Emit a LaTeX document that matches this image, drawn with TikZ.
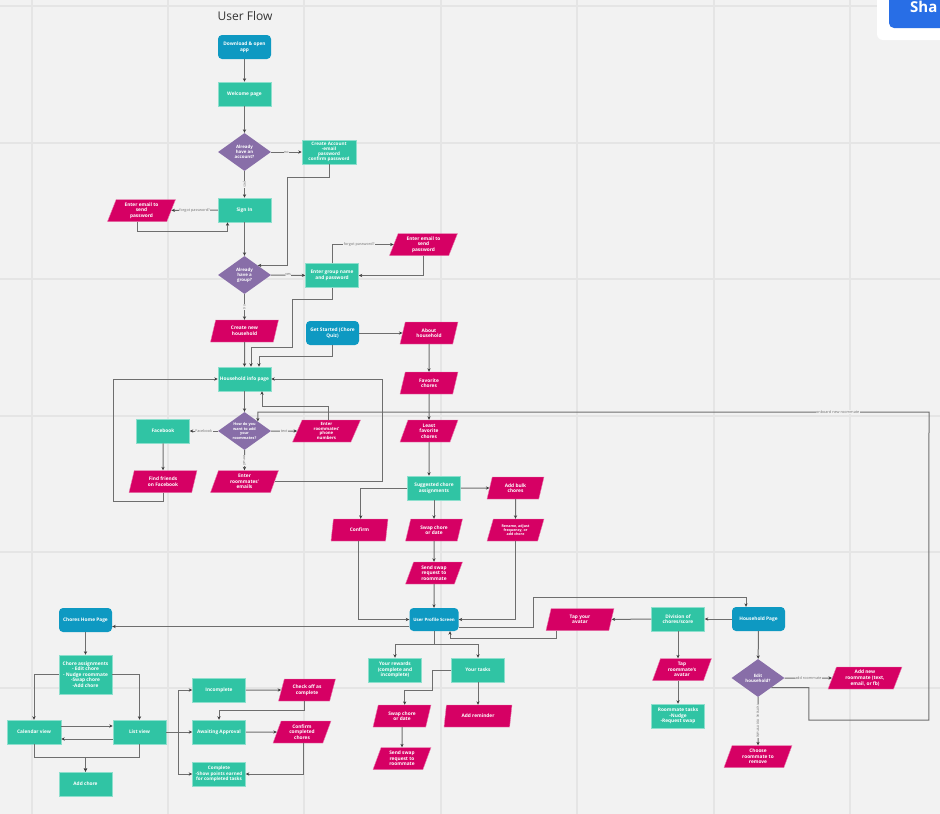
\documentclass[tikz,border=0pt]{standalone}
\usepackage{fontspec}
\setmainfont{Open Sans}
\usetikzlibrary{calc,arrows.meta,shapes.geometric}
\definecolor{bgc}{RGB}{242,242,242}
\definecolor{gridc}{RGB}{229,229,229}
\definecolor{tealc}{RGB}{48,196,164}
\definecolor{magc}{RGB}{214,0,100}
\definecolor{bluec}{RGB}{14,153,194}
\definecolor{purc}{RGB}{136,110,168}
\definecolor{linec}{RGB}{110,110,110}
\definecolor{tipc}{RGB}{60,60,60}
\definecolor{btnc}{RGB}{40,110,230}
\begin{document}
\begin{tikzpicture}[x=1pt,y=-1pt,
  ntxt/.style={text=white, font=\fontsize{4.8}{5.6}\selectfont\bfseries, align=center, inner sep=0.5pt},
  proc/.style={ntxt, rectangle, fill=tealc, draw=tealc!55!white, line width=0.5pt, minimum width=53, minimum height=24},
  term/.style={ntxt, rectangle, rounded corners=4pt, fill=bluec, minimum width=53, minimum height=24},
  para/.style={ntxt, trapezium, trapezium left angle=63, trapezium right angle=117, trapezium stretches body, fill=magc, draw=magc!50!white, line width=0.4pt, minimum width=68, minimum height=22},
  dec/.style={diamond, fill=purc, minimum width=53, minimum height=38, inner sep=0pt},
  dtxt/.style={ntxt, font=\fontsize{4.4}{5.1}\selectfont\bfseries},
  arr/.style={draw=linec, line width=1pt, -{Stealth[length=3.5pt,width=3.2pt,color=tipc]}},
  lbl/.style={font=\fontsize{3.8}{4}\selectfont, text=black!55, fill=bgc, inner sep=0.4pt},
  lblv/.style={lbl, rotate=-90}
]
\useasboundingbox (0,0) rectangle (940,814);
\fill[bgc] (0,0) rectangle (940,814);
\foreach \gx in {32,168,304,441,577,714,850} \draw[gridc, line width=1.3pt] (\gx,0) -- (\gx,814);
\foreach \gy in {6,143,279,416,552,688} \draw[gridc, line width=1.3pt] (0,\gy) -- (940,\gy);

\begin{scope}
\clip (0,0) rectangle (940,814);
\fill[white, rounded corners=6pt] (877,-10) rectangle (960,40);
\fill[btnc, rounded corners=5pt] (889,-10) rectangle (960,28);
\node[anchor=west, text=white, font=\fontsize{15}{16}\selectfont\bfseries, inner sep=0] (share) at (910,7) {Sha};
\end{scope}

\node[font=\fontsize{12}{14}\selectfont, text=black!80] (title) at (245,16) {User Flow};

% nodes
\node[term] (dl) at (244.5,47) {Download \& open\\app};
\node[proc] (wel) at (244.5,94) {Welcome page};
\node[dec] (acc) at (244.5,152) {};
\node[dtxt] (acct) at (acc) {Already\\have an\\account?};
\node[proc, minimum width=54, font=\fontsize{4.6}{5.2}\selectfont\bfseries] (create) at (329,152) {Create Account\\-email\\password\\confirm password};
\node[proc] (signin) at (244.5,210) {Sign In};
\node[para] (email1) at (141.5,210.5) {Enter email to\\send\\password};
\node[dec] (grp) at (244.5,275) {};
\node[dtxt] (grpt) at (grp) {Already\\have a\\group?};
\node[proc] (grpname) at (332,275.5) {Enter group name\\and password};
\node[para] (email2) at (423.5,244.5) {Enter email to\\send\\password};
\node[para] (newhh) at (244.5,331) {Create new\\household};
\node[term] (gs) at (332.5,333) {Get Started (Chore\\Quiz)};
\node[para, minimum width=58] (about) at (429,333) {About\\household};
\node[proc] (hh) at (244.5,379) {Household info page};
\node[dec] (addrm) at (244.5,431) {};
\node[dtxt, font=\fontsize{3.8}{4.5}\selectfont\bfseries] (addrmt) at (addrm) {How do you\\want to add\\your\\roommates?};
\node[proc] (fb) at (163,431) {Facebook};
\node[para, font=\fontsize{4.3}{4.9}\selectfont\bfseries] (phone) at (326.5,431) {Enter\\roommates'\\phone\\numbers};
\node[para] (emails) at (244.5,481.5) {Enter\\roommates'\\emails};
\node[para] (findfb) at (163,481.5) {Find friends\\on Facebook};
\node[para, minimum width=58] (fav) at (429,383) {Favorite\\chores};
\node[para, minimum width=58] (least) at (429,431) {Least\\favorite\\chores};
\node[proc] (sugg) at (434,488) {Suggested chore\\assignments};
\node[para, minimum width=57] (bulk) at (515.5,488) {Add bulk\\chores};
\node[para, minimum width=57] (conf) at (359.5,530) {Confirm};
\node[para, minimum width=57] (swap) at (434,530) {Swap chore\\or date};
\node[para, minimum width=57, font=\fontsize{3.6}{4.3}\selectfont\bfseries] (ren) at (515.5,530) {Rename, adjust\\frequency, or\\add chore};
\node[para, minimum width=57] (send) at (434,573) {Send swap\\request to\\roommate};
\node[term, minimum width=49, minimum height=23, font=\fontsize{4.4}{5}\selectfont\bfseries] (up) at (434,619.5) {User Profile Screen};
\node[term] (chome) at (85.5,620) {Chores Home Page};
\node[proc, minimum height=39] (ca) at (85.5,674.5) {Chore assignments\\- Edit chore\\- Nudge roommate\\-Swap chore\\-Add chore};
\node[proc, minimum width=54] (cal) at (34,732) {Calendar view};
\node[proc] (list) at (139.5,732) {List view};
\node[proc] (addc) at (85.5,784) {Add chore};
\node[proc] (inc) at (219,690) {Incomplete};
\node[para, minimum width=57] (chk) at (307,690) {Check off as\\complete};
\node[proc] (await) at (219,732) {Awaiting Approval};
\node[para, minimum width=58] (cc) at (302,732) {Confirm\\completed\\chores};
\node[proc, font=\fontsize{4.6}{5.3}\selectfont\bfseries] (comp) at (219,774) {Complete\\-Show points earned\\for completed tasks};
\node[proc] (rew) at (395,670) {Your rewards\\(complete and\\incomplete)};
\node[proc] (tasks) at (478,670) {Your tasks};
\node[para, minimum width=58] (swap2) at (402,716) {Swap chore\\or date};
\node[para] (rem) at (478,716) {Add reminder};
\node[para, minimum width=58] (send2) at (402,758.5) {Send swap\\request to\\roommate};
\node[para] (tap) at (580,619.5) {Tap your\\avatar};
\node[proc] (div) at (678,619) {Division of\\chores/score};
\node[term] (hp) at (758.5,619) {Household Page};
\node[para, minimum width=59] (trm) at (682,669.5) {Tap\\roommate's\\avatar};
\node[proc] (rmt) at (678,716) {Roommate tasks\\-Nudge\\-Request swap};
\node[dec] (edit) at (758,678) {};
\node[dtxt] (editt) at (edit) {Edit\\household?};
\node[para, minimum width=74] (addnew) at (865,678) {Add new\\roommate (text,\\email, or fb)};
\node[para] (choose) at (758,756.5) {Choose\\roommate to\\remove};

% connectors
\draw[arr] (dl) -- (wel);
\draw[arr] (wel) -- (acc);
\draw[arr] (acc) -- node[lbl]{no} (create);
\draw[arr] (acc) -- node[lblv]{yes} (signin);
\draw[arr] (create.south) |- ($(grp.north east)+(30,-87.5)$) |- (grp.north east);
\draw[arr] (signin) -- node[lbl]{forgot password?} (email1);
\draw[arr] (email1.bottom side) |- ($(signin.south)+(-17,9)$) -- ($(signin.south)+(-17,0)$);
\draw[arr] (signin) -- (grp);
\draw[arr] (grp) -- node[lbl]{yes} (grpname);
\draw[arr] (grp) -- node[lblv]{no} (newhh);
\draw[arr] (grpname.north) |- node[lbl,pos=0.72]{forgot password?} (email2.left side);
\draw[arr] ($(email2.center)+(0,11)$) |- (grpname.east);
\draw[arr] (newhh) -- (hh);
\draw[arr] (grpname.south) -- ++(0,12) -| ($(hh.north)+(47.5,-19)$) -| ($(hh.north)+(6.5,0)$);
\draw[arr] (gs) -- (about);
\draw[arr] (gs.south) -- ++(0,11) -| ($(hh.north)+(14.5,0)$);
\draw[arr] (about) -- (fav);
\draw[arr] (fav) -- (least);
\draw[arr] (least) -- (least |- sugg.north);
\draw[arr] (hh) -- (addrm);
\draw[arr] (addrm) -- node[lbl]{Facebook} (fb);
\draw[arr] (addrm) -- node[lbl]{text} (phone);
\draw[arr] (addrm) -- node[lblv]{email} (emails);
\draw[arr] (fb) -- (findfb);
\draw[arr] ($(findfb.center)+(0,11)$) |- ($(hh.west)+(-104,122)$) |- (hh.west);
\draw[arr] (emails.right side) -| ($(hh.east)+(111,0)$) -- (hh.east);
\draw[arr] ($(phone.center)+(2,-11)$) |- ($(hh.south)+(17.5,15)$) -- ($(hh.south)+(17.5,0)$);
\draw[arr] (edit.south east) -- ++(37.5,0) -- ++(0,32.5) -- ++(120,0) -- (929,412)
  -- node[lbl,pos=0.136]{onboard new roommate} (addrm.north east |- 929,412) -- (addrm.north east);
\draw[arr] (sugg.west) -| (conf.top side);
\draw[arr] (sugg) -- (swap);
\draw[arr] (sugg) -- (bulk);
\draw[arr] (bulk) -- (ren);
\draw[arr] (conf.bottom side) |- (up.west);
\draw[arr] (swap) -- (send);
\draw[arr] (send) -- (up);
\draw[arr] (ren) |- (up.east);
\draw[arr] ($(up.west)+(0,7)$) -- ($(chome.east)+(0,6.5)$);
\draw[arr] ($(up.east)+(0,8)$) -| ($(hp.north)+(-225.5,-9)$) -| ($(hp.north)+(-12.5,0)$);
\draw[arr] (up.south) -- ++(0,13) -| (rew);
\draw[arr] (up.south) ++(0,13) -| (tasks);
\draw[arr] ($(tap.center)+(-24,11)$) |- ($(up.south)+(16,7)$) -- ($(up.south)+(16,0)$);
\draw[arr] (div) -- (tap);
\draw[arr] (hp) -- (div);
\draw[arr] (div) -- (div |- trm.north);
\draw[arr] (rmt |- trm.south) -- (rmt);
\draw[arr] (hp) -- (edit);
\draw[arr] (edit) -- node[lbl]{add roommate} (addnew);
\draw[arr] (edit) -- node[lblv]{remove roommate} (choose);
\draw[arr] (chome) -- (ca);
\draw[arr] (ca.west) -| (cal);
\draw[arr] (ca.east) -| (list);
\draw[arr] ($(cal.east)+(0,-6)$) -- ($(list.west)+(0,-6)$);
\draw[arr] ($(list.west)+(0,7)$) -- ($(cal.east)+(0,7)$);
\draw[arr] (cal.south) |- ($(addc.north)+(0,-14)$) -- (addc.north);
\draw[arr] (list.south) |- ($(addc.north)+(0,-14)$) -- (addc.north);
\draw[arr] (list.east) -- ++(12.5,0) |- (inc.west);
\draw[arr] (list.east) -- (await.west);
\draw[arr] (list.east) ++(12.5,0) |- (comp.west);
\draw[arr] (inc) -- (chk);
\draw[arr] (chk.bottom side) |- ($(await.north)+(0,-9)$) -- (await.north);
\draw[arr] (await) -- (cc);
\draw[arr] ($(cc.center)+(1,11)$) |- (comp.east);
\draw[arr] (tasks.west) -| ($(swap2.center)+(30,-26)$) -| (swap2.top side);
\draw[arr] (tasks) -- (rem);
\draw[arr] (swap2) -- (send2);
\end{tikzpicture}
\end{document}
